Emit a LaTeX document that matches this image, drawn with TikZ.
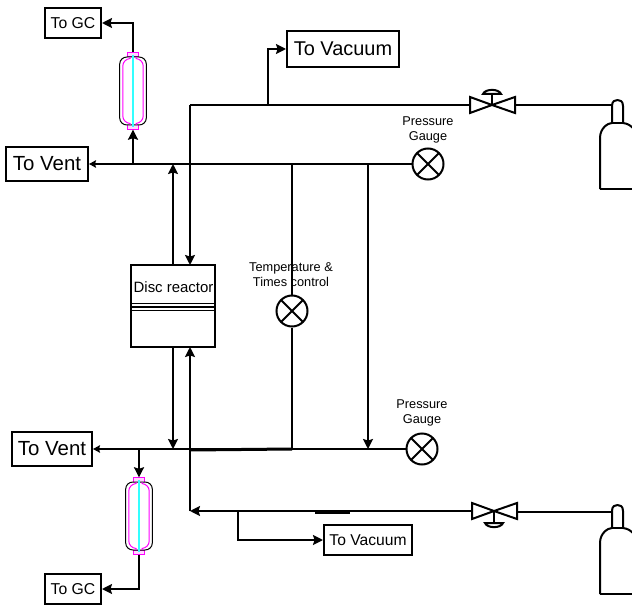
\documentclass[tikz,border=0pt]{standalone}
\usepackage{fontspec}
\setmainfont{Liberation Sans}
\usetikzlibrary{arrows.meta,calc}
\definecolor{linerpink}{rgb}{1,0,1}
\definecolor{corecyan}{rgb}{0.2,1,1}
\tikzset{
  pipe/.style={line width=2bp},
  flow/.style={pipe,-{Stealth[length=10bp,width=10bp,inset=1.5bp]}},
  flowsmall/.style={pipe,-{Stealth[length=7bp,width=7.5bp,inset=1bp]}},
  destbox/.style={draw,line width=2bp,inner sep=0pt,align=center},
  gauge/.style={circle,draw,line width=2bp,inner sep=0pt,minimum size=#1,
    path picture={\draw[line width=2bp]
      (path picture bounding box.south west)--(path picture bounding box.north east)
      (path picture bounding box.north west)--(path picture bounding box.south east);}},
  lbl/.style={inner sep=0pt,align=center,font=\fontsize{12.8}{15}\selectfont},
  holder/.style={inner sep=0pt,minimum width=26bp,minimum height=77bp},
  shell/.style={line width=1bp,draw=black,fill=white},
  liner/.style={line width=1bp,draw=linerpink},
  core/.style={line width=1.5bp,draw=corecyan},
  valvebody/.style={line width=2bp,line join=miter},
  bottle/.style={line width=2bp,line join=round},
}
\newcommand{\columnshape}[1]{%
  \begin{scope}[shift={(#1)}]
    \draw[liner,fill=linerpink!15] (-5.5,-38.5) rectangle (5.5,-34);
    \draw[liner,fill=linerpink!15] (-5.5,34) rectangle (5.5,38.5);
    \draw[shell] (-6,-34) .. controls (-10,-34) and (-13.3,-31) .. (-13.3,-27) -- (-13.3,27)
       .. controls (-13.3,31) and (-10,34) .. (-6,34) -- (6,34)
       .. controls (10,34) and (13.3,31) .. (13.3,27) -- (13.3,-27)
       .. controls (13.3,-31) and (10,-34) .. (6,-34) -- cycle;
    \draw[liner] (-3,-34) -- (-3,-32.5) .. controls (-7,-32) and (-10.2,-29) .. (-10.2,-25) -- (-10.2,25)
       .. controls (-10.2,29) and (-7,32) .. (-3,32.5) -- (-3,34);
    \draw[liner] (3,-34) -- (3,-32.5) .. controls (7,-32) and (10.2,-29) .. (10.2,-25) -- (10.2,25)
       .. controls (10.2,29) and (7,32) .. (3,32.5) -- (3,34);
    \draw[core] (0,-36) -- (0,36);
  \end{scope}}
\begin{document}
\begin{tikzpicture}[x=1bp,y=-1bp]
\useasboundingbox[fill=white] (0,0) rectangle (632,605);
% boxes
\node[destbox,minimum width=56bp,minimum height=30bp,font=\fontsize{15.8}{18}\selectfont] (gcA) at (73,23) {To GC};
\node[destbox,minimum width=82bp,minimum height=34bp,font=\fontsize{20.5}{23}\selectfont] (ventA) at (47,164) {To Vent};
\node[destbox,minimum width=112bp,minimum height=36bp,font=\fontsize{20}{23}\selectfont] (vacA) at (343,49) {To Vacuum};
\node[destbox,minimum width=80bp,minimum height=34bp,font=\fontsize{20.5}{23}\selectfont] (ventB) at (52,449) {To Vent};
\node[destbox,minimum width=88bp,minimum height=30bp,font=\fontsize{15.7}{18}\selectfont] (vacB) at (368,540) {To Vacuum};
\node[destbox,minimum width=56bp,minimum height=30bp,font=\fontsize{15.8}{18}\selectfont] (gcB) at (73,589) {To GC};
% reactor
\node[draw,line width=2bp,inner sep=0pt,minimum width=84bp,minimum height=82bp] (reactor) at (173,306) {};
\node[inner sep=0pt,font=\fontsize{15}{18}\selectfont] (reactorlabel) at (173.5,287) {Disc reactor};
\draw[line width=1bp] (reactor.west |- 0,303.5) -- (reactor.east |- 0,303.5);
\draw[line width=2bp] (reactor.west |- 0,307) -- (reactor.east |- 0,307);
\draw[line width=1bp] (reactor.west |- 0,310.5) -- (reactor.east |- 0,310.5);
% columns
\node[holder] (colA) at (133,91) {};
\node[holder] (colB) at (139,516) {};
\columnshape{133,91}
\columnshape{139,516}
% gauges
\node[gauge=31bp] (pgA) at (428,164) {};
\node[gauge=31bp] (pgB) at (422,449) {};
\node[gauge=31bp] (tc) at (292,311) {};
\node[lbl] (pgAlabel) at (428,129.5) {Pressure\\Gauge};
\node[lbl] (pgBlabel) at (422,412.5) {Pressure\\Gauge};
\node[lbl] (tclabel) at (291,275) {Temperature \&\\Times control};
% valves
\coordinate (vA) at (492,105);
\coordinate (vB) at (494,511);
\coordinate (vAl) at (470,105);
\coordinate (vAr) at (515,105);
\coordinate (vBl) at (472,511);
\coordinate (vBr) at (517,512);
\draw[valvebody] (vA) -- ++(-22,-8) -- ++(0,16) -- cycle;
\draw[valvebody] (vA) -- ++(23,-8) -- ++(0,16) -- cycle;
\draw[line width=2bp] (vA) -- ++(0,-11);
\draw[line width=2bp] ($(vA)+(-9,-11)$) .. controls ($(vA)+(-7,-16.5)$) and ($(vA)+(7,-16.5)$) .. ($(vA)+(9,-11)$) -- cycle;
\draw[valvebody] (vB) -- ++(-22,-8) -- ++(0,16) -- cycle;
\draw[valvebody] (vB) -- ++(23,-8) -- ++(0,16) -- cycle;
\draw[line width=2bp] (vB) -- ++(0,12);
\draw[line width=2bp] ($(vB)+(-9,12)$) .. controls ($(vB)+(-7,17.5)$) and ($(vB)+(7,17.5)$) .. ($(vB)+(9,12)$) -- cycle;
% cylinders
\coordinate (cylA) at (612,100);
\coordinate (cylB) at (612,505);
\draw[bottle] (600,189) -- (600,138) .. controls (600,128) and (608,123) .. (612,123) -- (612,106) .. controls (612,101) and (615,100) .. (617.5,100) .. controls (620,100) and (623,101) .. (623,106) -- (623,123) .. controls (628,123.5) and (631,126) .. (634,129);
\draw[bottle] (612,123) -- (623,123);
\draw[bottle] (600,189) -- (634,189);
\draw[bottle] (600,594) -- (600,543) .. controls (600,533) and (608,528) .. (612,528) -- (612,511) .. controls (612,506) and (615,505) .. (617.5,505) .. controls (620,505) and (623,506) .. (623,511) -- (623,528) .. controls (628,528.5) and (631,531) .. (634,534);
\draw[bottle] (612,528) -- (623,528);
\draw[bottle] (600,594) -- (634,594);
% junction coordinates
\coordinate (ja) at (133,164);
\coordinate (jb) at (173,164);
\coordinate (jc) at (292,164);
\coordinate (jd) at (368,164);
\coordinate (je) at (139,449);
\coordinate (jf) at (173,449);
\coordinate (jg) at (292,449);
\coordinate (jh) at (368,449);
\coordinate (ji) at (190,511);
\coordinate (jj) at (238,511);
\coordinate (jk) at (268,105);
\coordinate (jl) at (190,105);
\coordinate (rt1) at (173,265);
\coordinate (rt2) at (190,265);
\coordinate (rb1) at (173,347);
\coordinate (rb2) at (190,347);
% connectors
\draw[flowsmall] (pgA.west) -- (ventA.east);
\draw[flow] (ja) -- (ja |- colA.south);
\draw[flow] (colA.north) |- (gcA.east);
\draw[flow] (rt1) -- (jb);
\draw[flow] (jl) -- (rt2);
\draw[pipe] (vAl) -- (jl);
\draw[flow] (jk) |- (vacA.west);
\draw[pipe] (jc) -- (tc.north);
\draw[pipe] (tc.south) -- (jg);
\draw[flow] (jd) -- (jh);
\draw[pipe] (vAr) -- (cylA |- vAr) ;
\draw[flowsmall] (pgB.west) -- (ventB.east);
\draw[line width=3bp] (jc |- jg) -- (190,450);
\draw[flow] (rb1) -- (jf);
\draw[flow] (ji) -- (rb2);
\draw[flow] (vBl) -- (ji);
\draw[line width=3bp] (315,512) -- (350,512);
\draw[flow] (jj) |- (vacB.west);
\draw[flow] (je) -- (colB.north);
\draw[flow] (colB.south) |- (gcB.east);
\draw[pipe] (vBr) -- (cylB |- vBr);
\end{tikzpicture}
\end{document}
